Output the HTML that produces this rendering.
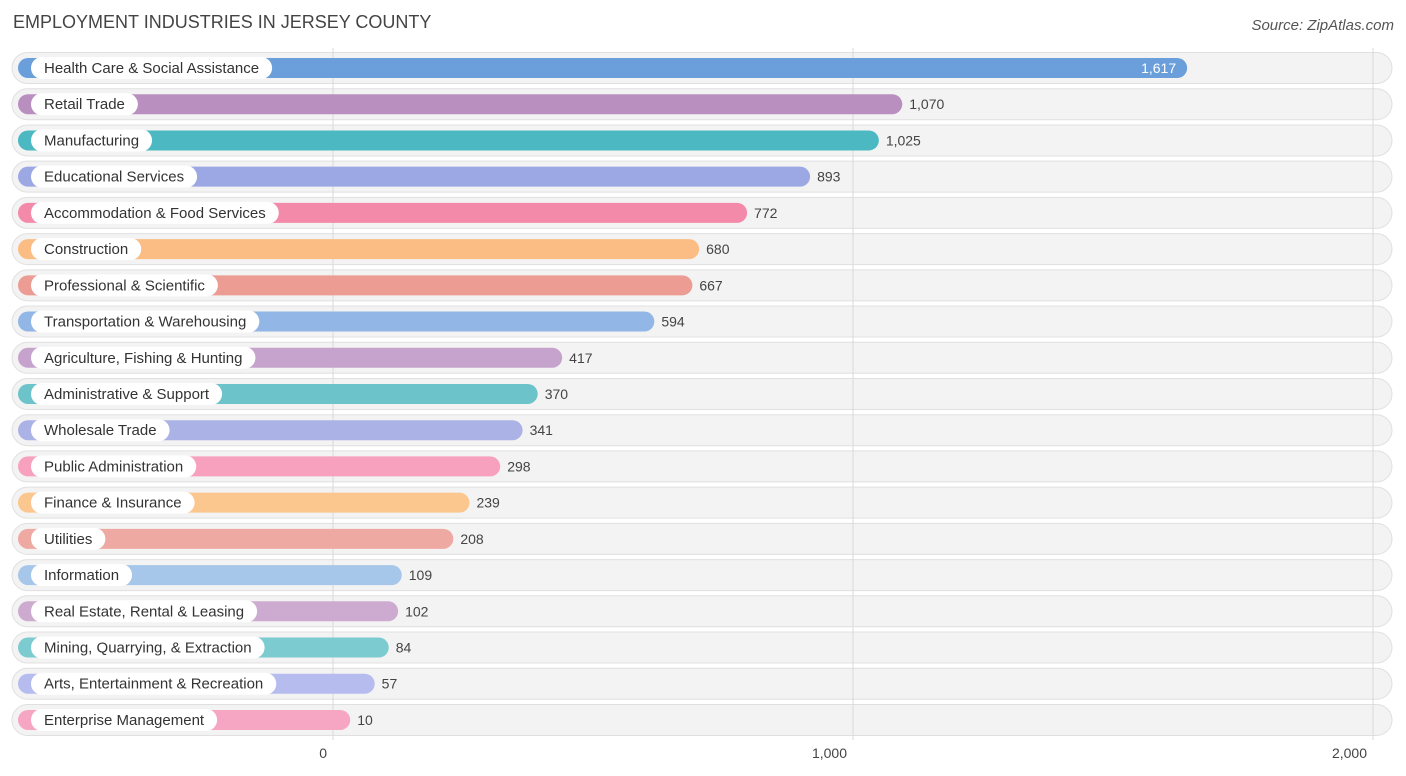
<!DOCTYPE html>
<html><head><meta charset="utf-8"><style>
body{margin:0;background:#fff;font-family:"Liberation Sans",sans-serif;}
#c{position:absolute;left:0;top:0;}
</style></head><body>
<svg id="c" width="1406" height="776">
<text x="13" y="28" font-size="18" fill="#444">EMPLOYMENT INDUSTRIES IN JERSEY COUNTY</text>
<text x="1394" y="30" font-size="15" fill="#555" font-style="italic" text-anchor="end">Source: ZipAtlas.com</text>
<g id="bgs"></g><g id="grid"></g><g id="rows"></g><g id="ticks"></g>
</svg>
<script>
const categories=["Health Care & Social Assistance","Retail Trade","Manufacturing","Educational Services","Accommodation & Food Services","Construction","Professional & Scientific","Transportation & Warehousing","Agriculture, Fishing & Hunting","Administrative & Support","Wholesale Trade","Public Administration","Finance & Insurance","Utilities","Information","Real Estate, Rental & Leasing","Mining, Quarrying, & Extraction","Arts, Entertainment & Recreation","Enterprise Management"];
const values=[1617,1070,1025,893,772,680,667,594,417,370,341,298,239,208,109,102,84,57,10];
const valueLabels=["1,617","1,070","1,025","893","772","680","667","594","417","370","341","298","239","208","109","102","84","57","10"];
const tickValues=[0,1000,2000];
const tickLabels=["0","1,000","2,000"];
const colors=["#6a9fdc","#b98fc0","#4bb8c2","#9ba8e3","#f38aaa","#fbbd84","#ec9c93","#92b6e6","#c6a3cc","#6cc3c9","#abb2e6","#f7a1bf","#fbc78f","#efa9a3","#a6c6ea","#cdabd0","#7bcbd0","#b6bced","#f6a6c3"];
const NS="http://www.w3.org/2000/svg";
const x=v=>333+v*0.52;
const barEnd=v=>345+v*0.5208;
const y=i=>68+i*36.22;
function mk(t,a,p){const e=document.createElementNS(NS,t);for(const k in a)e.setAttribute(k,a[k]);p.appendChild(e);return e;}
const bgs=document.getElementById('bgs'),grid=document.getElementById('grid'),rows=document.getElementById('rows'),ticks=document.getElementById('ticks');
categories.forEach((c,i)=>{
 const r=mk('rect',{x:12,y:y(i)-15.5,width:1380,height:31,rx:15.5,fill:'#f3f3f3',stroke:'#e0e0e0'},bgs);
 
 
});
tickValues.forEach((t,i)=>{
 const l=mk('line',{x1:x(t),x2:x(t),y1:48,y2:740,stroke:'#d8d8d8','stroke-width':1},grid);
 
 
 const tx=mk('text',{x:x(t)-6,y:758,'font-size':14,fill:'#444','text-anchor':'end'},ticks);
 tx.textContent=tickLabels[i];
 
 
});
categories.forEach((c,i)=>{
 const cy=y(i);
 const g=mk('g',{},rows);
 
 
 const e=barEnd(values[i]);
 const b=mk('rect',{x:18,y:cy-10,width:e-18,height:20,rx:10,fill:colors[i]},g);
 
 
 const pill=mk('rect',{x:31,y:cy-11,width:100,height:22,rx:11,fill:'#fff'},g);
 const t=mk('text',{x:44,y:cy+5,'font-size':15,fill:'#333'},g);
 t.textContent=c;
 
 
 pill.setAttribute('width',t.getComputedTextLength()+26);
 const inside=i==0;
 const v=mk('text',{x:inside?e-11:e+7,y:cy+5,'font-size':14,fill:inside?'#fff':'#444','text-anchor':inside?'end':'start'},g);
 v.textContent=valueLabels[i];
 
 
});
</script>
</body></html>
